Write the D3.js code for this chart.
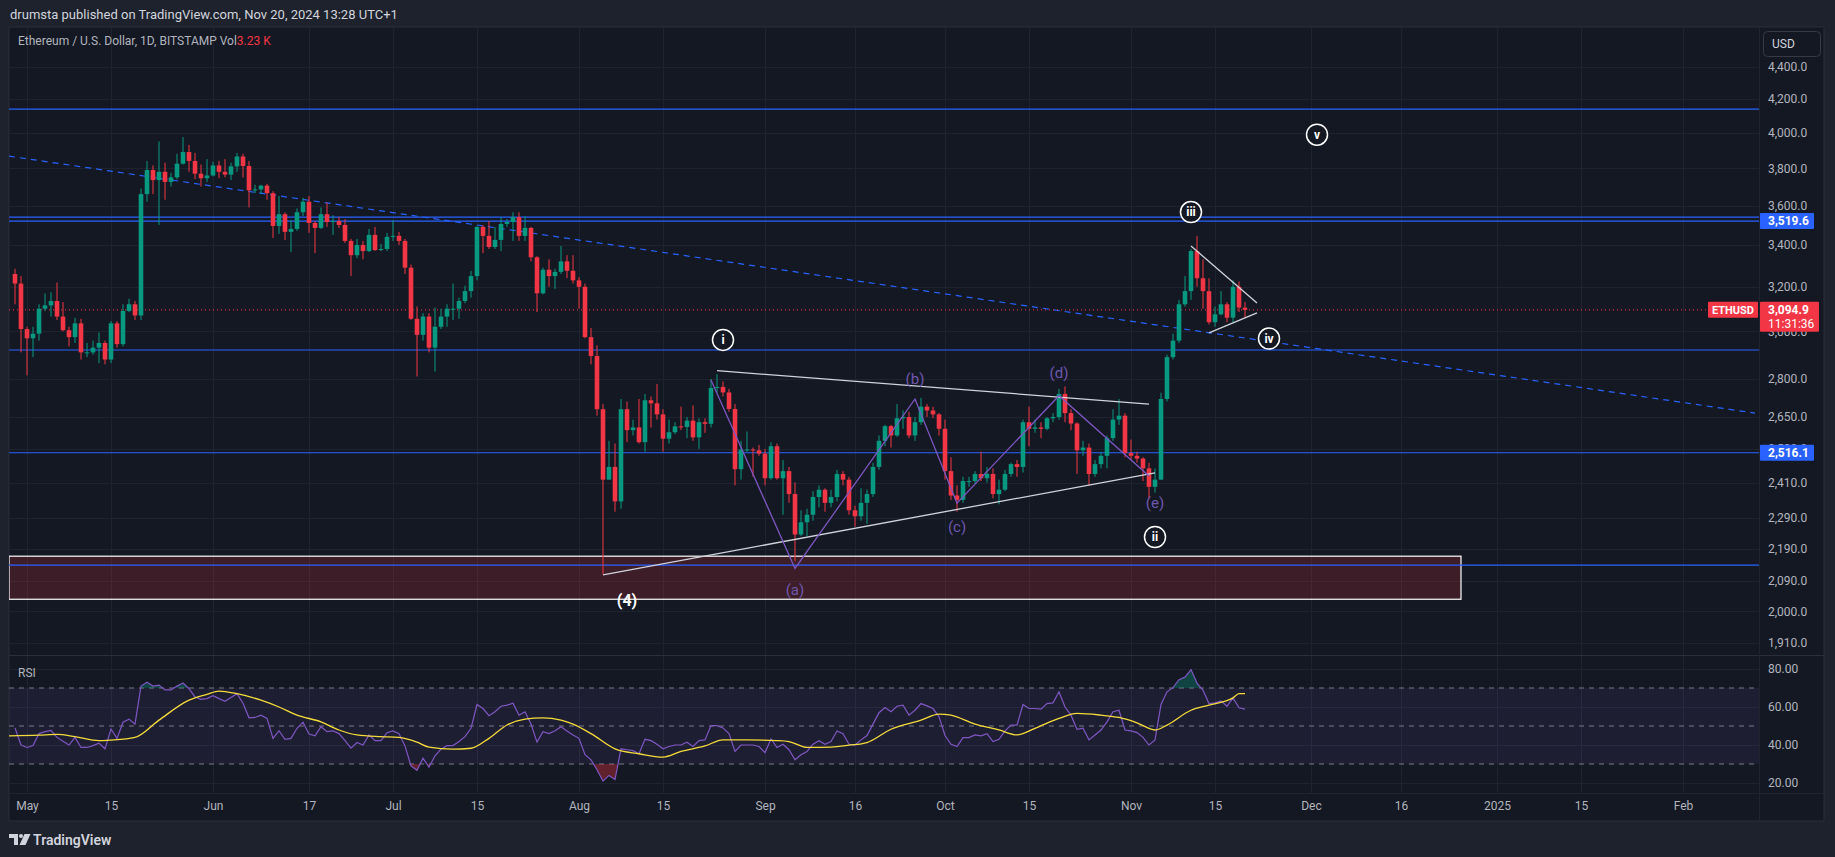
<!DOCTYPE html>
<html>
<head>
<meta charset="utf-8">
<script src="https://cdn.jsdelivr.net/npm/d3@7/dist/d3.min.js"></script>
<style>
  body { margin: 0; background: #1e222d; }
  svg { display: block; font-family: Roboto, "Liberation Sans", sans-serif; }
</style>
</head>
<body>
<svg id="chart" width="1835" height="857"></svg>
<script>
// daily candles [open, high, low, close], starting on firstDay
const firstDay = "2024-04-29";
const aprOhlc = [[3260,3285,3120,3215],[3215,3250,2910,3010]];
const mayOhlc = [
  [3010,3020,2815,2970],[2970,3020,2890,2990],[2990,3120,2960,3100],[3100,3170,3090,3115],
  [3115,3175,3065,3135],[3135,3220,3050,3065],[3065,3130,3000,3005],[3005,3020,2935,2975],
  [2975,3060,2950,3035],[3035,3055,2880,2910],[2910,2950,2890,2910],[2910,2960,2900,2930],
  [2930,2995,2865,2950],[2950,2960,2860,2880],[2880,3045,2865,3035],[3035,3045,2930,2945],
  [2945,3120,2935,3090],[3090,3145,3085,3120],[3120,3135,3050,3070],[3070,3690,3050,3660],
  [3660,3840,3620,3790],[3790,3815,3660,3735],[3735,3950,3500,3780],[3780,3830,3630,3725],
  [3725,3775,3700,3750],[3750,3880,3740,3825],[3825,3975,3820,3890],[3890,3930,3780,3840],
  [3840,3885,3740,3770],[3770,3820,3700,3745],[3745,3850,3725,3760]
];
const junOhlc = [
  [3760,3835,3755,3815],[3815,3840,3745,3780],[3780,3850,3750,3765],[3765,3830,3735,3810],
  [3810,3885,3780,3865],[3865,3880,3750,3812],[3812,3840,3590,3680],[3680,3710,3665,3685],
  [3685,3710,3660,3705],[3705,3715,3630,3665],[3665,3675,3435,3495],[3495,3650,3455,3555],
  [3555,3565,3425,3465],[3465,3525,3365,3480],[3480,3585,3470,3565],[3565,3640,3545,3620],
  [3620,3650,3460,3510],[3510,3520,3360,3485],[3485,3590,3480,3555],[3555,3615,3490,3515],
  [3515,3550,3450,3520],[3520,3540,3485,3500],[3500,3530,3410,3420],[3420,3430,3250,3350],
  [3350,3430,3335,3400],[3400,3420,3330,3370],[3370,3480,3365,3450],[3450,3490,3370,3375],
  [3375,3405,3370,3380],[3380,3460,3370,3440]
];
const julOhlc = [
  [3440,3525,3420,3445],[3445,3465,3400,3420],[3420,3430,3260,3290],[3290,3305,3050,3055],
  [3055,3110,2810,2985],[2985,3080,2960,3065],[3065,3080,2910,2930],[2930,3105,2830,3020],
  [3020,3100,3010,3065],[3065,3120,3020,3100],[3100,3215,3050,3100],[3100,3150,3055,3135],
  [3135,3205,3125,3180],[3180,3275,3150,3250],[3250,3495,3230,3490],[3490,3500,3360,3445],
  [3445,3520,3380,3390],[3390,3490,3380,3425],[3425,3540,3370,3505],[3505,3530,3490,3515],
  [3515,3565,3420,3540],[3540,3565,3420,3445],[3445,3545,3420,3485],[3485,3490,3320,3340],
  [3340,3345,3085,3170],[3170,3290,3165,3280],[3280,3330,3200,3250],[3250,3285,3190,3270],
  [3270,3395,3260,3320],[3320,3350,3240,3275],[3275,3350,3215,3230]
];
const augOhlc = [
  [3230,3245,3100,3200],[3200,3215,2970,2975],[2975,3015,2860,2895],[2895,2940,2655,2680],
  [2680,2700,2110,2420],[2420,2560,2420,2465],[2465,2550,2310,2345],[2345,2720,2320,2680],
  [2680,2710,2555,2600],[2600,2640,2580,2610],[2610,2720,2550,2555],[2555,2740,2520,2715],
  [2715,2730,2610,2703],[2703,2780,2640,2660],[2660,2680,2520,2568],[2568,2640,2550,2592],
  [2592,2630,2585,2614],[2614,2690,2600,2612],[2612,2650,2570,2636],[2636,2695,2560,2573],
  [2573,2645,2530,2630],[2630,2645,2590,2624],[2624,2800,2610,2764],[2764,2820,2745,2768],
  [2768,2790,2730,2746],[2746,2760,2670,2681],[2681,2700,2400,2457],[2457,2560,2420,2528],
  [2528,2595,2520,2528],[2528,2535,2430,2525],[2525,2545,2505,2513]
];
const sepOhlc = [
  [2513,2530,2400,2425],[2425,2555,2420,2540],[2540,2550,2420,2425],[2425,2490,2300,2450],
  [2450,2465,2340,2370],[2370,2410,2150,2235],[2235,2315,2230,2275],[2275,2320,2230,2300],
  [2300,2380,2280,2360],[2360,2400,2325,2385],[2385,2390,2310,2340],[2340,2385,2325,2360],
  [2360,2455,2345,2440],[2440,2450,2400,2420],[2420,2430,2300,2315],[2315,2330,2260,2295],
  [2295,2390,2280,2340],[2340,2385,2270,2370],[2370,2480,2360,2465],[2465,2580,2455,2560],
  [2560,2620,2540,2615],[2615,2620,2535,2580],[2580,2700,2575,2645],[2645,2675,2605,2650],
  [2650,2670,2570,2580],[2580,2650,2560,2630],[2630,2725,2620,2690],[2690,2700,2650,2675],
  [2675,2690,2645,2660],[2660,2665,2580,2605]
];
const octOhlc = [
  [2605,2640,2420,2450],[2450,2500,2350,2365],[2365,2400,2310,2350],[2350,2430,2340,2415],
  [2415,2430,2395,2415],[2415,2450,2405,2440],[2440,2520,2415,2425],[2425,2465,2410,2440],
  [2440,2460,2355,2370],[2370,2420,2335,2385],[2385,2455,2380,2440],[2440,2480,2430,2475],
  [2475,2490,2430,2465],[2465,2640,2445,2630],[2630,2690,2540,2605],[2605,2640,2590,2610],
  [2610,2630,2570,2605],[2605,2650,2600,2645],[2645,2665,2630,2650],[2650,2760,2640,2740],
  [2740,2770,2630,2665],[2665,2680,2600,2625],[2625,2630,2440,2525],[2525,2560,2505,2535],
  [2535,2550,2400,2440],[2440,2490,2430,2475],[2475,2520,2460,2505],[2505,2580,2460,2570],
  [2570,2680,2560,2640],[2640,2720,2620,2655],[2655,2665,2500,2515]
];
const novOhlc = [
  [2515,2565,2490,2505],[2505,2520,2480,2495],[2495,2500,2415,2460],[2460,2480,2355,2395],
  [2395,2460,2375,2420],[2420,2745,2420,2720],[2720,2900,2710,2890],[2890,2990,2880,2960],
  [2960,3140,2950,3120],[3120,3250,3110,3180],[3180,3380,3140,3370],[3370,3445,3200,3240],
  [3240,3330,3100,3180],[3180,3240,3030,3040],[3040,3110,3020,3075],[3075,3180,3070,3120],
  [3120,3130,3040,3060],[3060,3230,3040,3200],[3200,3225,3085,3105],[3105,3130,3060,3094.9]
];

// RSI(14) per day, same days as the candles
const rsiApr = [49, 40];
const rsiMay = [38.7,39.7,46,47,47.7,44,42,40,44,38.7,38.7,39.7,41,38,48.4,43.5,52,53.6,51,71,73,71,71.5,69,69,71,72.6,69.6,65.3,64,64.4];
const rsiJun = [66,64.4,63,65,67,62,54.3,54.5,55.7,54,43.5,47.5,43,43.5,48.8,52,45.8,44.8,49.6,47,47.4,46,42.3,38.3,41.3,40,45.3,42.3,42.3,46.5];
const rsiJul = [47.4,46,39.5,29,26.7,33,28.4,34.3,37.8,39.7,39.7,41.8,44.4,48.8,61.3,59.2,55.4,57.5,60.4,61,62,55.7,57.5,51,41.5,47,46,47.5,49.6,47.4,45.3];
const rsiAug = [43.5,34.9,32.2,27,21,24,21.8,38,37.5,37,35.4,43,42.3,40.4,38,39.2,40,40,41.5,39.2,42.3,42.7,50.2,50.2,49,46,36.6,40,40,40,39.2];
const rsiSep = [36,43.2,38.7,40.4,37.5,32.2,34.9,36.6,40.4,42.3,40.4,41.8,47.4,46,40.4,40,42.7,45,51,57,59.7,57.5,60.4,61,55.7,58.3,61.8,60.6,59.2,54.9];
const rsiOct = [45,40.4,39.2,43.9,43.9,45.3,44.8,46,41.8,43,47.4,50.5,50.5,61.3,59.2,59.2,58.9,61.8,62.2,68,60,55.7,48.3,48.8,42.7,45.3,47.9,52.2,57.5,58.3,47.9];
const rsiNov = [47.4,46.5,44,40,42.7,61.3,68,70.2,74.4,75.7,79.7,72.6,68.8,61.8,62.2,63.2,60.4,64.8,59.6,58.9];

// RSI moving average, read at these days
const rsiMaDays = ["2024-04-28","2024-05-03","2024-05-06","2024-05-09","2024-05-13","2024-05-15","2024-05-19",
  "2024-05-23","2024-05-28","2024-05-31","2024-06-02","2024-06-05","2024-06-09","2024-06-12","2024-06-15",
  "2024-06-19","2024-06-22","2024-06-25","2024-06-29","2024-07-02","2024-07-05","2024-07-07","2024-07-11",
  "2024-07-14","2024-07-17","2024-07-20","2024-07-23","2024-07-26","2024-07-29","2024-07-31","2024-08-03",
  "2024-08-07","2024-08-11","2024-08-15","2024-08-18","2024-08-22","2024-08-25","2024-08-29","2024-09-03",
  "2024-09-05","2024-09-08","2024-09-12","2024-09-15","2024-09-18","2024-09-22","2024-09-27","2024-09-30",
  "2024-10-02","2024-10-06","2024-10-10","2024-10-13","2024-10-16","2024-10-20","2024-10-23","2024-10-27",
  "2024-10-30","2024-11-02","2024-11-05","2024-11-07","2024-11-11","2024-11-14","2024-11-18","2024-11-19","2024-11-20"];
const rsiMaValues = [44.8,45.2,45.6,44.4,42.3,42.6,44,53.1,63.6,66.7,68.4,67,63.6,60,55.7,52.2,47.9,45.3,44.4,44,
  41.5,38.9,37.8,38.3,43.5,50.5,53.6,54.3,53.1,51,46,38,35.4,33.6,36.6,39.5,42.7,42.7,42.3,41.8,38.7,38.9,39.9,
  41.3,48.3,53.1,56.3,55.7,51,47.9,45.3,48.8,54,56.6,55.7,54.5,51.7,47.9,50.5,58.3,61,64.8,67,67];

const priceTicks = [4400,4200,4000,3800,3600,3400,3200,3000,2800,2650,2530,2410,2290,2190,2090,2000,1910];
const rsiTicks = [80,60,40,20];
const timeTickDays = ["2024-05-01","2024-05-15","2024-06-01","2024-06-17","2024-07-01","2024-07-15","2024-08-01",
  "2024-08-15","2024-09-01","2024-09-16","2024-10-01","2024-10-15","2024-11-01","2024-11-15","2024-12-01",
  "2024-12-16","2025-01-01","2025-01-15","2025-02-01"];
const timeTickLabels = ["May","15","Jun","17","Jul","15","Aug","15","Sep","16","Oct","15","Nov","15","Dec","16","2025","15","Feb"];

// drawings on the chart
const levelPrices = [4140, 3540, 3519.6, 2920, 2516.1, 2138];
const trendDays = ["2024-04-28","2025-02-13"], trendPrices = [3867, 2665];
const zoneDays = ["2024-04-28","2024-12-26"], zonePrices = [2166, 2035];
const triUpperDays = ["2024-08-24","2024-11-04"], triUpperPrices = [2834, 2700];
const triLowerDays = ["2024-08-05","2024-11-05"], triLowerPrices = [2108, 2444];
const smallUpperDays = ["2024-11-11","2024-11-22"], smallUpperPrices = [3395, 3126];
const smallLowerDays = ["2024-11-14","2024-11-22"], smallLowerPrices = [2993, 3081];
const zigDays = ["2024-08-23","2024-09-06","2024-09-26","2024-10-03","2024-10-20","2024-11-04"];
const zigPrices = [2796, 2128, 2720, 2339, 2733, 2433];
const subLabels = ["(a)","(b)","(c)","(d)","(e)"];
const subDays = ["2024-09-06","2024-09-26","2024-10-03","2024-10-20","2024-11-05"];
const subPrices = [2062, 2802, 2259, 2824, 2339];
const waveLabels = ["i","ii","iii","iv","v"];
const waveDays = ["2024-08-25","2024-11-05","2024-11-11","2024-11-24","2024-12-02"];
const wavePrices = [2963, 2227, 3566, 2969, 3989];
const lastPrice = 3094.9;
const countdown = "11:31:36";

const UP = "#089981", DOWN = "#f23645", BLUE = "#2962ff", PURPLE = "#7e57c2";
const GRID = "#1f2330", TEXT = "#b2b5be";

const parseDay = d3.utcParse("%Y-%m-%d");
const candles = [].concat(aprOhlc, mayOhlc, junOhlc, julOhlc, augOhlc, sepOhlc, octOhlc, novOhlc)
  .map((c, i) => ({ date: d3.utcDay.offset(parseDay(firstDay), i), open: c[0], high: c[1], low: c[2], close: c[3] }));
const rsi = [].concat(rsiApr, rsiMay, rsiJun, rsiJul, rsiAug, rsiSep, rsiOct, rsiNov)
  .map((v, i) => ({ date: d3.utcDay.offset(parseDay(firstDay), i), v }));
const rsiMa = rsiMaDays.map((d, i) => ({ date: parseDay(d), v: rsiMaValues[i] }));

// layout
const left = 9, plotRight = 1759, panelRight = 1824;
const priceTop = 27, priceBottom = 655, rsiBottom = 793, timeBottom = 821;

const x = d3.scaleUtc().domain([parseDay("2024-05-01"), parseDay("2024-11-01")]).range([27, 1131]);
const y = d3.scaleLog().domain([4400, 1910]).range([67, 643]);
const rsiY = d3.scaleLinear().domain([80, 20]).range([669, 783]);

const svg = d3.select("#chart");

svg.append("rect").attr("width", 1835).attr("height", 857).attr("fill", "#1e222d");
svg.append("text").attr("x", 10).attr("y", 18.5).attr("fill", "#d1d4dc")
  .style("font-size", "13px").text("drumsta published on TradingView.com, Nov 20, 2024 13:28 UTC+1");
svg.append("rect").attr("x", left).attr("y", priceTop).attr("width", panelRight - left).attr("height", timeBottom - priceTop)
  .attr("fill", "#141823").attr("stroke", "#2a2e39");

const defs = svg.append("defs");
defs.append("clipPath").attr("id", "clipPrice").append("rect")
  .attr("x", left).attr("y", priceTop).attr("width", plotRight - left).attr("height", priceBottom - priceTop);
defs.append("clipPath").attr("id", "clipRsi").append("rect")
  .attr("x", left).attr("y", priceBottom).attr("width", plotRight - left).attr("height", rsiBottom - priceBottom);
defs.append("clipPath").attr("id", "clipOver").append("rect")
  .attr("x", left).attr("y", priceBottom).attr("width", plotRight - left).attr("height", rsiY(70) - priceBottom);
defs.append("clipPath").attr("id", "clipUnder").append("rect")
  .attr("x", left).attr("y", rsiY(30)).attr("width", plotRight - left).attr("height", rsiBottom - rsiY(30));

// grid
const grid = svg.append("g").attr("stroke", GRID).attr("stroke-width", 1);
grid.selectAll(".hp").data(priceTicks).enter().append("line")
  .attr("x1", left).attr("x2", plotRight).attr("y1", d => Math.round(y(d)) + 0.5).attr("y2", d => Math.round(y(d)) + 0.5);
grid.selectAll(".hr").data(rsiTicks).enter().append("line")
  .attr("x1", left).attr("x2", plotRight).attr("y1", d => Math.round(rsiY(d)) + 0.5).attr("y2", d => Math.round(rsiY(d)) + 0.5);
grid.selectAll(".v").data(timeTickDays).enter().append("line")
  .attr("x1", d => Math.round(x(parseDay(d))) + 0.5).attr("x2", d => Math.round(x(parseDay(d))) + 0.5)
  .attr("y1", priceTop).attr("y2", rsiBottom);

// pane separators
svg.append("line").attr("x1", left).attr("x2", panelRight).attr("y1", priceBottom + 0.5).attr("y2", priceBottom + 0.5).attr("stroke", "#2a2e39");
svg.append("line").attr("x1", left).attr("x2", panelRight).attr("y1", rsiBottom + 0.5).attr("y2", rsiBottom + 0.5).attr("stroke", "#20242f");
svg.append("line").attr("x1", plotRight + 0.5).attr("x2", plotRight + 0.5).attr("y1", priceTop).attr("y2", timeBottom).attr("stroke", "#20242f");

const price = svg.append("g").attr("clip-path", "url(#clipPrice)");

// demand zone
price.append("rect")
  .attr("x", x(parseDay(zoneDays[0]))).attr("y", y(zonePrices[0]))
  .attr("width", x(parseDay(zoneDays[1])) - x(parseDay(zoneDays[0])))
  .attr("height", y(zonePrices[1]) - y(zonePrices[0]))
  .attr("fill", "rgba(242,54,69,0.18)").attr("stroke", "#ffffff").attr("stroke-width", 1.2);

// horizontal levels and trendline
price.selectAll(".lvl").data(levelPrices).enter().append("line")
  .attr("x1", left).attr("x2", plotRight).attr("y1", d => y(d)).attr("y2", d => y(d))
  .attr("stroke", BLUE).attr("stroke-width", 1.2);
price.append("line")
  .attr("x1", x(parseDay(trendDays[0]))).attr("y1", y(trendPrices[0]))
  .attr("x2", x(parseDay(trendDays[1]))).attr("y2", y(trendPrices[1]))
  .attr("stroke", BLUE).attr("stroke-width", 1.2).attr("stroke-dasharray", "6,5");
price.append("line")
  .attr("x1", left).attr("x2", 1708).attr("y1", y(lastPrice)).attr("y2", y(lastPrice))
  .attr("stroke", DOWN).attr("stroke-dasharray", "1,3");

// candles
const bodyW = 4.6;
const cg = price.selectAll(".candle").data(candles).enter().append("g")
  .attr("fill", d => d.close >= d.open ? UP : DOWN).attr("stroke", d => d.close >= d.open ? UP : DOWN);
cg.append("line")
  .attr("x1", d => x(d.date)).attr("x2", d => x(d.date))
  .attr("y1", d => y(d.high)).attr("y2", d => y(d.low)).attr("stroke-width", 1);
cg.append("rect")
  .attr("x", d => x(d.date) - bodyW / 2).attr("width", bodyW)
  .attr("y", d => y(Math.max(d.open, d.close)))
  .attr("height", d => Math.max(1, Math.abs(y(d.open) - y(d.close))))
  .attr("stroke", "none");

// triangle lines
function segment(days, prices, color, width) {
  price.append("line")
    .attr("x1", x(parseDay(days[0]))).attr("y1", y(prices[0]))
    .attr("x2", x(parseDay(days[1]))).attr("y2", y(prices[1]))
    .attr("stroke", color).attr("stroke-width", width);
}
segment(triUpperDays, triUpperPrices, "#d1d4dc", 1.3);
segment(triLowerDays, triLowerPrices, "#d1d4dc", 1.3);
segment(smallUpperDays, smallUpperPrices, "#d1d4dc", 1.3);
segment(smallLowerDays, smallLowerPrices, "#d1d4dc", 1.3);

// abcde zigzag
price.append("path")
  .datum(zigDays.map((d, i) => [x(parseDay(d)), y(zigPrices[i])]))
  .attr("d", d3.line())
  .attr("fill", "none").attr("stroke", PURPLE).attr("stroke-width", 1.3);
price.selectAll(".sub").data(subLabels).enter().append("text")
  .attr("x", (d, i) => x(parseDay(subDays[i]))).attr("y", (d, i) => y(subPrices[i]))
  .attr("dy", "0.35em").attr("text-anchor", "middle")
  .attr("fill", "#6f57ad").style("font-size", "15px").text(d => d);

price.append("text").attr("x", x(parseDay("2024-08-09"))).attr("y", y(2033)).attr("dy", "0.35em")
  .attr("text-anchor", "middle").attr("fill", "#ffffff").style("font-size", "16px").style("font-weight", "bold").text("(4)");

// circled wave labels
const wg = price.selectAll(".wave").data(waveLabels).enter().append("g")
  .attr("transform", (d, i) => `translate(${x(parseDay(waveDays[i]))},${y(wavePrices[i])})`);
wg.append("circle").attr("r", 10.5).attr("fill", "#141823").attr("stroke", "#ffffff").attr("stroke-width", 1.5);
wg.append("text").attr("text-anchor", "middle").attr("dy", "0.36em").attr("fill", "#ffffff")
  .style("font-size", "12px").style("font-weight", "bold").text(d => d);

// RSI pane
const rp = svg.append("g").attr("clip-path", "url(#clipRsi)");
rp.append("rect").attr("x", left).attr("width", plotRight - left)
  .attr("y", rsiY(70)).attr("height", rsiY(30) - rsiY(70)).attr("fill", "rgba(126,87,194,0.1)");
rp.selectAll(".band").data([70, 50, 30]).enter().append("line")
  .attr("x1", left).attr("x2", plotRight).attr("y1", d => rsiY(d)).attr("y2", d => rsiY(d))
  .attr("stroke", "#787b86").attr("stroke-dasharray", "5,5");
rp.append("path").datum(rsi).attr("clip-path", "url(#clipOver)")
  .attr("d", d3.area().x(d => x(d.date)).y0(rsiY(70)).y1(d => rsiY(d.v)))
  .attr("fill", "rgba(8,153,129,0.35)");
rp.append("path").datum(rsi).attr("clip-path", "url(#clipUnder)")
  .attr("d", d3.area().x(d => x(d.date)).y0(rsiY(30)).y1(d => rsiY(d.v)))
  .attr("fill", "rgba(242,54,69,0.35)");
rp.append("path").datum(rsi)
  .attr("d", d3.line().x(d => x(d.date)).y(d => rsiY(d.v)))
  .attr("fill", "none").attr("stroke", PURPLE).attr("stroke-width", 1.2);
rp.append("path").datum(rsiMa)
  .attr("d", d3.line().curve(d3.curveMonotoneX).x(d => x(d.date)).y(d => rsiY(d.v)))
  .attr("fill", "none").attr("stroke", "#f5dc3b").attr("stroke-width", 1.3);

// axes
function styleAxis(g) {
  g.select(".domain").remove();
  g.attr("font-family", null).attr("font-size", null);
  g.selectAll("text").attr("fill", TEXT).style("font-size", "12px");
}
svg.append("g").attr("transform", `translate(${plotRight},0)`)
  .call(d3.axisRight(y).tickValues(priceTicks).tickFormat(d3.format(",.1f")).tickSize(0).tickPadding(9))
  .call(styleAxis);
svg.append("g").attr("transform", `translate(${plotRight},0)`)
  .call(d3.axisRight(rsiY).tickValues(rsiTicks).tickFormat(d3.format(".2f")).tickSize(0).tickPadding(9))
  .call(styleAxis);
svg.append("g").attr("transform", `translate(0,${rsiBottom})`)
  .call(d3.axisBottom(x).tickValues(timeTickDays.map(parseDay)).tickFormat((d, i) => timeTickLabels[i]).tickSize(0).tickPadding(8))
  .call(styleAxis);

// price tags on the axis
function priceTag(value, color, w, h) {
  const yy = y(value);
  svg.append("rect").attr("x", plotRight + 1).attr("y", yy - 8).attr("width", w).attr("height", h)
    .attr("fill", color).attr("rx", 1);
  svg.append("text").attr("x", plotRight + 9).attr("y", yy).attr("dy", "0.35em")
    .attr("fill", "#ffffff").style("font-size", "12px").style("font-weight", "bold").text(d3.format(",.1f")(value));
}
priceTag(3519.6, BLUE, 54, 16);
priceTag(2516.1, BLUE, 54, 16);
priceTag(lastPrice, DOWN, 59, 30);
svg.append("text").attr("x", plotRight + 9).attr("y", y(lastPrice) + 14).attr("dy", "0.35em")
  .attr("fill", "#ffffff").style("font-size", "12px").text(countdown);
svg.append("rect").attr("x", 1708).attr("y", y(lastPrice) - 8).attr("width", 50).attr("height", 16)
  .attr("fill", DOWN).attr("rx", 1);
svg.append("text").attr("x", 1733).attr("y", y(lastPrice)).attr("dy", "0.35em").attr("text-anchor", "middle")
  .attr("fill", "#ffffff").style("font-size", "11px").style("font-weight", "bold").text("ETHUSD");

// USD button
svg.append("rect").attr("x", 1763.5).attr("y", 31.5).attr("width", 57).attr("height", 25).attr("rx", 4)
  .attr("fill", "#141823").attr("stroke", "#363a45");
svg.append("text").attr("x", 1772).attr("y", 44).attr("dy", "0.35em").attr("fill", "#d1d4dc")
  .style("font-size", "12px").text("USD");

// legends
const legend = svg.append("text").attr("x", 18).attr("y", 41).attr("dy", "0.35em").style("font-size", "12px");
legend.append("tspan").attr("fill", TEXT).text("Ethereum / U.S. Dollar, 1D, BITSTAMP  Vol");
legend.append("tspan").attr("fill", DOWN).text("3.23 K");
svg.append("text").attr("x", 18).attr("y", 673).attr("dy", "0.35em").attr("fill", TEXT)
  .style("font-size", "12px").text("RSI");

// footer logo
const logo = svg.append("g").attr("transform", "translate(9,834)").attr("fill", "#d1d4dc");
logo.append("path").attr("d", "M0 0H9V11H5V4H0Z");
logo.append("circle").attr("cx", 12).attr("cy", 2).attr("r", 2);
logo.append("path").attr("d", "M15.5 0H21.5L16.5 11H10.5Z");
svg.append("text").attr("x", 33).attr("y", 840).attr("dy", "0.35em").attr("fill", "#d1d4dc")
  .style("font-size", "14px").style("font-weight", "600").text("TradingView");
</script>
</body>
</html>
